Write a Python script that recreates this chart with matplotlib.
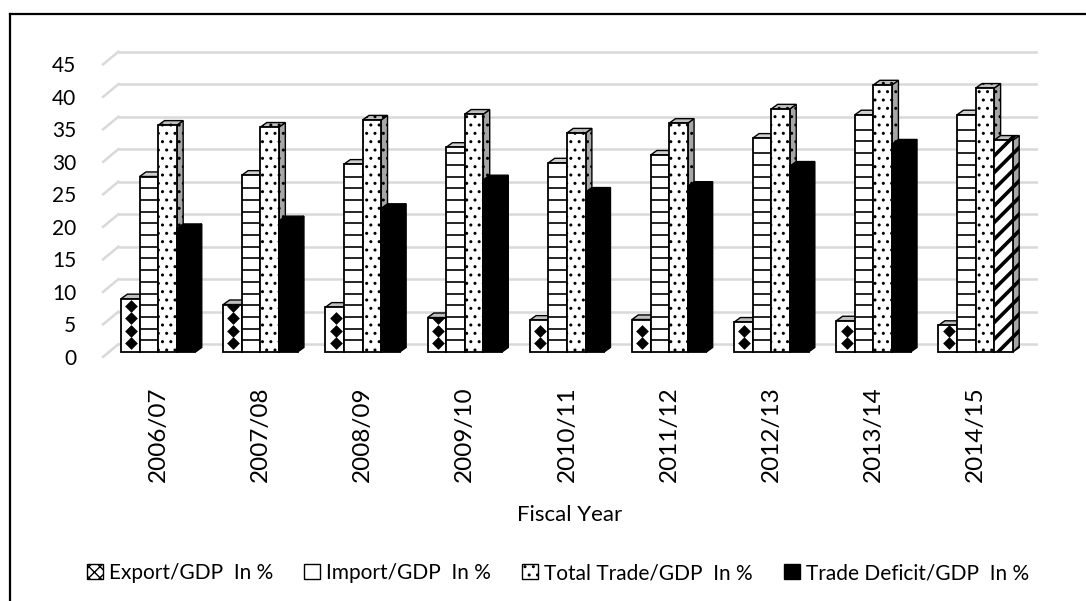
import matplotlib
matplotlib.use("Agg")
import numpy as np
import matplotlib.pyplot as plt
from matplotlib.patches import Polygon, Patch
from matplotlib.lines import Line2D

plt.rcParams['font.family'] = ['Lato', 'DejaVu Sans']
plt.rcParams['hatch.linewidth'] = 1.0

years = ["2006/07", "2007/08", "2008/09", "2009/10", "2010/11",
         "2011/12", "2012/13", "2013/14", "2014/15"]
export_gdp = [8.2, 7.3, 6.9, 5.3, 4.9, 5.0, 4.6, 4.8, 4.1]
import_gdp = [27.0, 27.2, 28.9, 31.5, 29.1, 30.3, 32.9, 36.5, 36.5]
total_gdp = [34.9, 34.6, 35.7, 36.6, 33.7, 35.2, 37.4, 41.1, 40.6]
deficit_gdp = [19.0, 20.2, 22.1, 26.5, 24.6, 25.5, 28.6, 32.0, 32.6]
series_names = ["Export/GDP  In %", "Import/GDP  In %",
                "Total Trade/GDP  In %", "Trade Deficit/GDP  In %"]
yticks = [0, 5, 10, 15, 20, 25, 30, 35, 40, 45]

fig = plt.figure(figsize=(10.86, 6.01), dpi=100)
ax = fig.add_axes([100 / 1086, 1 - 358.5 / 601, 938 / 1086, 312 / 601])
ax.set_xlim(-0.57, 8.61)
ax.set_ylim(-1, 47)
for s in ax.spines.values():
    s.set_visible(False)

# 3d look: depth offsets in data units
dx, dy = 0.062, 0.7
back = 1.2   # back wall gridlines sit a bit higher than bar fronts
for t in yticks:
    ax.plot([-0.39, 8.61], [t + back, t + back], color="#d9d9d9", lw=1.8, zorder=1,
            solid_capstyle="butt")
    ax.plot([-0.54, -0.39], [t - 0.75, t + back], color="#d9d9d9", lw=1.8, zorder=1)

w = 0.182
x = np.arange(len(years))
data = [export_gdp, import_gdp, total_gdp, deficit_gdp]


def faces(x0, x1, v, z, top_kw, side_kw):
    side = Polygon([(x1, 0), (x1 + dx, dy), (x1 + dx, v + dy), (x1, v)],
                   closed=True, zorder=z, lw=1.0, **side_kw)
    top = Polygon([(x0, v), (x0 + dx, v + dy), (x1 + dx, v + dy), (x1, v)],
                  closed=True, zorder=z, lw=1.0, **top_kw)
    ax.add_patch(side)
    ax.add_patch(top)


for g in range(len(years)):
    for s in range(4):
        v = data[s][g]
        x0 = x[g] + (s - 2) * w
        x1 = x0 + w
        z = 10 + g * 10 + s * 2
        hlw = 1.0
        if s == 0:
            fk = dict(facecolor="white", edgecolor="black")
            tk = dict(facecolor="#bfbfbf", edgecolor="black")
            sk = dict(facecolor="#7f7f7f", edgecolor="black")
        elif s == 1:
            fk = dict(facecolor="white", edgecolor="black")
            tk = dict(facecolor="#d0d0d0", edgecolor="black")
            sk = dict(facecolor="#a0a0a0", edgecolor="black")
        elif s == 2:
            fk = dict(facecolor="white", edgecolor="black", hatch="..")
            tk = dict(facecolor="#bfbfbf", edgecolor="black", hatch="..")
            sk = dict(facecolor="#a6a6a6", edgecolor="black", hatch="..")
        elif g == len(years) - 1:
            hlw = 2.6
            fk = dict(facecolor="white", edgecolor="black", hatch="//")
            tk = dict(facecolor="#bfbfbf", edgecolor="black", hatch="//")
            sk = dict(facecolor="#a6a6a6", edgecolor="black", hatch="//")
        else:
            fk = dict(facecolor="black", edgecolor="black")
            tk = dict(facecolor="black", edgecolor="black")
            sk = dict(facecolor="black", edgecolor="black")
        with plt.rc_context({"hatch.linewidth": hlw}):
            faces(x0, x1, v, z, tk, sk)
            bar = ax.bar(x0, v, width=w, align="edge", lw=1.3, zorder=z + 1, **fk)[0]
        if s == 0:
            ys = np.arange(1.35, v, 1.92)
            d = ax.scatter(np.full(len(ys), x0 + w * 0.55), ys, marker="D", s=42,
                           color="black", zorder=z + 1.5, lw=0)
            d.set_clip_path(bar)
        if s == 1:
            ys = np.arange(1.8, v - 0.5, 1.8)
            ax.hlines(ys, x0, x1, color="black", lw=1.2, zorder=z + 1.5)

ax.set_yticks([t - 0.75 for t in yticks])
ax.set_yticklabels([str(t) for t in yticks], fontsize=15)
ax.set_xticks(x)
ax.set_xticklabels(years, rotation=90, fontsize=17.5)
ax.tick_params(axis="y", length=0, pad=17)
ax.tick_params(axis="x", length=0, pad=20)

fig.text(570 / 1086, 1 - 515 / 601, "Fiscal Year", ha="center", va="center", fontsize=16)

handles = [Patch(facecolor="white", edgecolor="black", hatch="xxx"),
           Patch(facecolor="white", edgecolor="black"),
           Patch(facecolor="white", edgecolor="black", hatch=".."),
           Patch(facecolor="black", edgecolor="black")]
fig.legend(handles, series_names, loc="center", bbox_to_anchor=(558 / 1086, 1 - 573 / 601),
           ncol=4, frameon=False, fontsize=15, handlelength=0.75, handleheight=0.75,
           handletextpad=0.3, columnspacing=1.5)

# outer chart frame (left and top edges visible)
fig.add_artist(Line2D([10 / 1086, 10 / 1086], [0, 1 - 14 / 601], color="black", lw=1.6))
fig.add_artist(Line2D([10 / 1086, 1], [1 - 14 / 601, 1 - 14 / 601], color="black", lw=1.6))

fig.savefig("out.png", dpi=100)
